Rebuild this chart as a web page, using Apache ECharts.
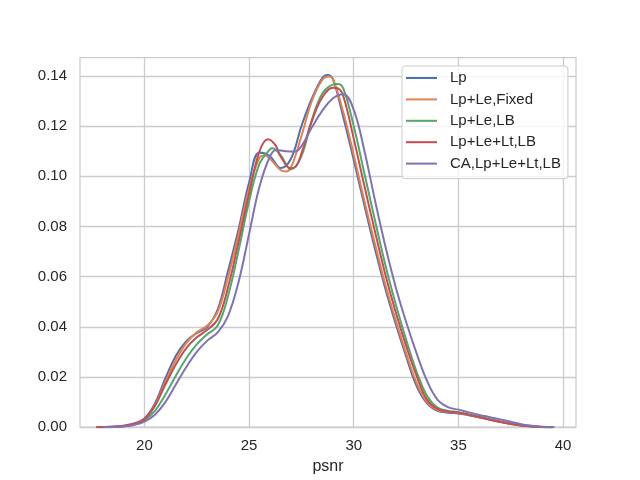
<!DOCTYPE html>
<html>
<head>
<meta charset="utf-8">
<script src="https://cdn.jsdelivr.net/npm/echarts@6/dist/echarts.min.js"></script>
<style>html,body{margin:0;padding:0;background:#fff}#c{width:640px;height:480px}</style>
</head>
<body>
<div id="c"></div>
<script>
const seriesNames = ['Lp', 'Lp+Le,Fixed', 'Lp+Le,LB', 'Lp+Le+Lt,LB', 'CA,Lp+Le+Lt,LB'];
const xTicks = [20, 25, 30, 35, 40];
const yTicks = [0, 0.02, 0.04, 0.06, 0.08, 0.10, 0.12, 0.14];

const lp = [[17.7,0],[18.5,0.0002],[19,0.0005],[19.5,0.0013],[20,0.0035],[20.5,0.0095],[21,0.0195],[21.5,0.0285],[22,0.0343],[22.5,0.0375],[23,0.0400],[23.5,0.0470],[24,0.0625],[24.5,0.0790],[25,0.0975],[25.5,0.1095],[26,0.1080],[26.5,0.1033],[27,0.1070],[27.5,0.1200],[28,0.1310],[28.5,0.1392],[28.75,0.1404],[29,0.1388],[29.5,0.1235],[30,0.1065],[30.5,0.0887],[31,0.0715],[31.5,0.0555],[32,0.0413],[32.5,0.0283],[33,0.0165],[33.5,0.0095],[34,0.0065],[34.5,0.0058],[35,0.0055],[35.5,0.0048],[36,0.0040],[36.5,0.0031],[37,0.0022],[37.5,0.0014],[38,0.0008],[38.5,0.0004],[39,0.0001],[39.5,0]];
const lpLeFixed = [[17.8,0],[18.5,0.0002],[19,0.0005],[19.5,0.0013],[20,0.0032],[20.5,0.0088],[21,0.0180],[21.5,0.0268],[22,0.0335],[22.5,0.0378],[23,0.0405],[23.5,0.0460],[24,0.0600],[24.5,0.0770],[25,0.0950],[25.5,0.1075],[25.75,0.1083],[26,0.1070],[26.5,0.1025],[26.75,0.1019],[27,0.1035],[27.5,0.1160],[28,0.1300],[28.5,0.1385],[28.8,0.1398],[29,0.1390],[29.5,0.1255],[30,0.1085],[30.5,0.0905],[31,0.0735],[31.5,0.0572],[32,0.0428],[32.5,0.0296],[33,0.0178],[33.5,0.0100],[34,0.0068],[34.5,0.0061],[35,0.0057],[35.5,0.0049],[36,0.0040],[36.5,0.0031],[37,0.0022],[37.5,0.0014],[38,0.0008],[38.5,0.0004],[39,0.0001],[39.5,0]];
const lpLeLB = [[17.9,0],[18.5,0.0001],[19,0.0004],[19.5,0.0011],[20,0.0028],[20.5,0.0065],[21,0.0130],[21.5,0.0205],[22,0.0275],[22.5,0.0330],[23,0.0370],[23.5,0.0405],[24,0.0525],[24.5,0.0705],[25,0.0900],[25.5,0.1050],[26,0.1108],[26.1,0.1112],[26.5,0.1085],[27,0.1028],[27.5,0.1080],[28,0.1225],[28.5,0.1330],[29,0.1365],[29.25,0.1368],[29.5,0.1350],[30,0.1200],[30.5,0.1015],[31,0.0830],[31.5,0.0650],[32,0.0492],[32.5,0.0350],[33,0.0222],[33.5,0.0125],[34,0.0078],[34.5,0.0065],[35,0.0060],[35.5,0.0051],[36,0.0042],[36.5,0.0032],[37,0.0022],[37.5,0.0014],[38,0.0007],[38.5,0.0003],[39,0.0001],[39.5,0]];
const lpLeLtLB = [[17.7,0],[18.5,0.0002],[19,0.0006],[19.5,0.0015],[20,0.0033],[20.5,0.0085],[21,0.0170],[21.5,0.0250],[22,0.0315],[22.5,0.0358],[23,0.0388],[23.5,0.0430],[24,0.0560],[24.5,0.0740],[25,0.0930],[25.5,0.1100],[25.9,0.1148],[26.25,0.1125],[26.5,0.1080],[27,0.1032],[27.25,0.1040],[27.5,0.1090],[28,0.1220],[28.5,0.1315],[29,0.1353],[29.25,0.1350],[29.5,0.1320],[30,0.1150],[30.5,0.0965],[31,0.0785],[31.5,0.0612],[32,0.0460],[32.5,0.0325],[33,0.0205],[33.5,0.0110],[34,0.0073],[34.5,0.0063],[35,0.0058],[35.5,0.0049],[36,0.0040],[36.5,0.0030],[37,0.0021],[37.5,0.0013],[38,0.0007],[38.5,0.0003],[39,0.0001],[39.5,0]];
const caLpLeLtLB = [[18.0,0],[18.5,0.0001],[19,0.0003],[19.5,0.0009],[20,0.0022],[20.5,0.0050],[21,0.0100],[21.5,0.0170],[22,0.0240],[22.5,0.0300],[23,0.0345],[23.5,0.0378],[24,0.0445],[24.5,0.0580],[25,0.0770],[25.5,0.0960],[26,0.1080],[26.3,0.1105],[26.75,0.1100],[27.2,0.1099],[27.5,0.1120],[28,0.1195],[28.5,0.1262],[29,0.1310],[29.5,0.1327],[30,0.1265],[30.5,0.1105],[31,0.0910],[31.5,0.0725],[32,0.0560],[32.5,0.0420],[33,0.0295],[33.5,0.0185],[34,0.0110],[34.5,0.0080],[35,0.0070],[35.5,0.0059],[36,0.0049],[36.5,0.0040],[37,0.0031],[37.5,0.0022],[38,0.0012],[38.5,0.0006],[39,0.0002],[39.6,0]];

const allData = [lp, lpLeFixed, lpLeLB, lpLeLtLB, caLpLeLtLB];
const colors = ['#4c72b0', '#dd8452', '#55a868', '#c44e52', '#8172b3'];
const FONT = '"Liberation Sans", Arial, sans-serif';

const chart = echarts.init(document.getElementById('c'), null, {renderer: 'canvas'});
chart.setOption({
  animation: false,
  backgroundColor: '#ffffff',
  color: colors,
  grid: {left: 80, right: 64, top: 57.6, bottom: 52.8, show: true, borderColor: '#cccccc', borderWidth: 1.25, backgroundColor: 'transparent'},
  legend: {
    orient: 'vertical', left: 402, top: 66,
    data: seriesNames,
    icon: 'rect', itemWidth: 31, itemHeight: 2, itemGap: 5.4,
    backgroundColor: 'rgba(255,255,255,0.8)', borderColor: '#cccccc', borderWidth: 1, borderRadius: 3,
    padding: [4, 7, 7, 4],
    textStyle: {fontFamily: FONT, fontSize: 15, color: '#262626', lineHeight: 16, padding: [0, 0, 0, 8]}
  },
  xAxis: {
    type: 'value', min: 16.92, max: 40.62,
    name: 'psnr', nameLocation: 'middle', nameGap: 31,
    nameTextStyle: {fontFamily: FONT, fontSize: 16, color: '#262626'},
    axisLine: {show: false},
    axisTick: {show: false, customValues: xTicks},
    axisLabel: {customValues: xTicks, fontFamily: FONT, fontSize: 15, color: '#262626', margin: 11},
    splitLine: {show: true, lineStyle: {color: '#cccccc', width: 1.3}}
  },
  yAxis: {
    type: 'value', min: 0, max: 0.1473,
    axisLine: {show: false},
    axisTick: {show: false, customValues: yTicks},
    axisLabel: {customValues: yTicks, fontFamily: FONT, fontSize: 15, color: '#262626', margin: 13, formatter: v => v.toFixed(2)},
    splitLine: {show: true, lineStyle: {color: '#cccccc', width: 1.3}}
  },
  series: allData.map((d, i) => ({
    name: seriesNames[i], type: 'line', data: d, smooth: 0.4, showSymbol: false, symbol: 'none',
    lineStyle: {width: 2, color: colors[i]}, itemStyle: {color: colors[i]},
    emphasis: {disabled: true}, z: 3 + i
  }))
});
</script>
</body>
</html>
